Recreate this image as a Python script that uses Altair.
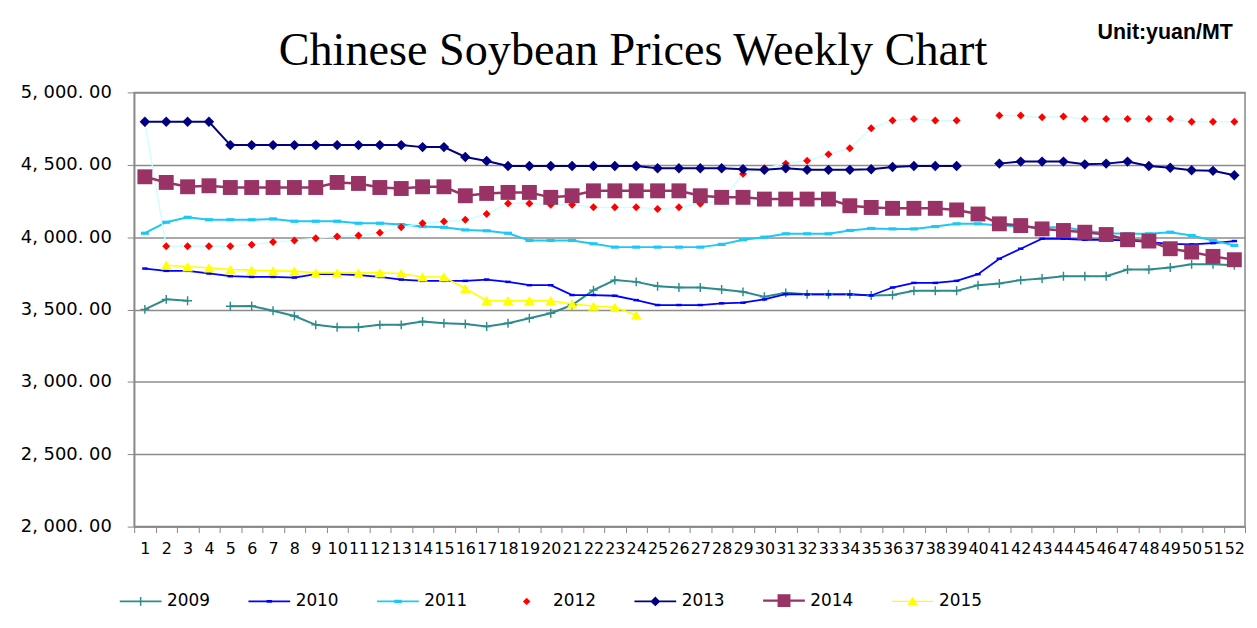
import altair as alt
import pandas as pd

weeks = list(range(1, 53))
years = ["2009", "2010", "2011", "2012", "2013", "2014", "2015"]

y2009 = [3501, 3570, 3561, None, 3522, 3524, 3492, 3455, 3394, 3378, 3378, 3394, 3394, 3417, 3405, 3400,
         3382, 3405, 3440, 3474, 3531, 3634, 3703, 3691, 3661, 3652, 3652, 3638, 3622, 3588, 3615, 3606,
         3606, 3606, 3597, 3600, 3629, 3629, 3629, 3668, 3680, 3703, 3714, 3730, 3730, 3730, 3776, 3776,
         3790, 3812, 3812, 3806]
y2010 = [3783, 3767, 3767, 3749, 3730, 3725, 3725, 3721, 3744, 3744, 3737, 3725, 3707, 3698, 3698, 3698,
         3707, 3691, 3668, 3668, 3600, 3600, 3595, 3565, 3531, 3531, 3531, 3543, 3547, 3570, 3606, 3604,
         3604, 3604, 3597, 3652, 3684, 3684, 3698, 3744, 3851, 3920, 3989, 3989, 3982, 3982, 3977, 3966,
         3954, 3950, 3959, 3973]
y2011 = [4027, 4103, 4137, 4120, 4120, 4120, 4126, 4110, 4110, 4110, 4096, 4096, 4087, 4073, 4068, 4050,
         4044, 4027, 3977, 3977, 3977, 3954, 3931, 3931, 3931, 3931, 3931, 3950, 3982, 4000, 4023, 4023,
         4023, 4046, 4060, 4057, 4057, 4073, 4092, 4092, 4080, 4073, 4068, 4068, 4046, 4027, 4023, 4023,
         4034, 4011, 3977, 3943]
y2012 = [4790, 3937, 3937, 3937, 3937, 3948, 3966, 3977, 3993, 4004, 4011, 4030, 4068, 4096, 4108, 4120,
         4160, 4233, 4233, 4224, 4224, 4206, 4206, 4206, 4195, 4206, 4230, 4250, 4437, 4476, 4508, 4528,
         4572, 4614, 4752, 4806, 4817, 4806, 4806, None, 4840, 4840, 4828, 4833, 4817, 4817, 4817, 4817,
         4817, 4797, 4797, 4797]
y2013 = [4797, 4797, 4797, 4797, 4636, 4636, 4636, 4636, 4636, 4636, 4636, 4636, 4636, 4622, 4622, 4554,
         4526, 4492, 4492, 4492, 4492, 4492, 4492, 4492, 4476, 4476, 4476, 4476, 4469, 4465, 4476, 4465,
         4465, 4465, 4469, 4485, 4492, 4492, 4492, None, 4508, 4522, 4522, 4522, 4503, 4508, 4522, 4492,
         4480, 4462, 4458, 4428]
y2014 = [4417, 4378, 4348, 4355, 4343, 4343, 4343, 4343, 4343, 4378, 4371, 4343, 4336, 4348, 4348, 4286,
         4302, 4309, 4309, 4275, 4286, 4320, 4320, 4320, 4320, 4320, 4286, 4275, 4275, 4263, 4263, 4263,
         4263, 4217, 4205, 4199, 4199, 4199, 4188, 4160, 4092, 4080, 4057, 4046, 4034, 4018, 3982, 3973,
         3920, 3897, 3867, 3844]
y2015 = [None, 3806, 3795, 3788, 3776, 3772, 3767, 3765, 3753, 3753, 3753, 3753, 3749, 3725, 3725, 3645,
         3561, 3561, 3561, 3561, 3538, 3524, 3515, 3462]

y_ticks = [2000, 2500, 3000, 3500, 4000, 4500, 5000]

line_colors = ["#2E8B8B", "#0000FF", "#1EC8F5", "#CCFFFF", "#000080", "#993366", "#FFFF00"]
line_widths = [2, 1.8, 2, 1.3, 2, 2.5, 1.6]
marker_colors = ["#2E8B8B", "#0000FF", "#1EC8F5", "#FF0000", "#000080", "#993366", "#FFFF00"]
marker_shapes = [
    "M-1,-0.16H1V0.16H-1Z M-0.16,-1H0.16V1H-0.16Z",
    "M-1,-0.45H1V0.45H-1Z",
    "M-1,-0.4H1V0.4H-1Z",
    "diamond",
    "diamond",
    "square",
    "triangle-up",
]
marker_sizes = [81, 30, 64, 64, 110, 225, 115]
legend_shapes = [
    "M-4.2,-0.2H4.2V0.2H-4.2Z M-0.15,-0.9H0.15V0.9H-0.15Z",
    "M-4.2,-0.18H4.2V0.18H-4.2Z M-0.55,-0.3H0.55V0.3H-0.55Z",
    "M-4.2,-0.2H4.2V0.2H-4.2Z M-0.75,-0.32H0.75V0.32H-0.75Z",
    "M-4.2,0H4.2 M0,-0.75L0.75,0L0,0.75L-0.75,0Z",
    "M-4.2,-0.2H4.2V0.2H-4.2Z M0,-1L1,0L0,1L-1,0Z",
    "M-4.2,-0.25H4.2V0.25H-4.2Z M-1.3,-1.3H1.3V1.3H-1.3Z",
    "M-4.2,-0.15H4.2V0.15H-4.2Z M0,-1L1.1,0.8L-1.1,0.8Z",
]

series = [y2009, y2010, y2011, y2012, y2013, y2014, y2015]
rows = []
for yr, vals in zip(years, series):
    for w, v in zip(weeks, vals):
        rows.append({"week": w, "year": yr, "price": v})
df = pd.DataFrame(rows)
legend_df = pd.DataFrame({"series": years})

FONT = "DejaVu Sans"

x_enc = alt.X(
    "week:O",
    scale=alt.Scale(type="band", paddingInner=0, paddingOuter=0),
    axis=alt.Axis(title=None, labelAngle=0, labelFont=FONT, labelFontSize=16, labelColor="black",
                  labelPadding=8, tickSize=6, tickColor="#888888", domainColor="#888888",
                  domainWidth=1.5, tickBand="extent", grid=False, labelOverlap=False),
)
y_enc = alt.Y(
    "price:Q",
    scale=alt.Scale(domain=[2000, 5000], nice=False, zero=False),
    axis=alt.Axis(values=y_ticks, grid=True, gridColor="#8c8c8c", gridWidth=1.5,
                  labelExpr="replace(replace(format(datum.value, ',.2f'), ',', ', '), '.', '. ')",
                  labelFont=FONT, labelFontSize=18, labelColor="black", labelPadding=16,
                  tickSize=7, tickColor="#888888", domainColor="#888888", domainWidth=1.5,
                  title="Unit:yuan/MT", titleAngle=0, titleX=969, titleY=-60, titleAlign="left",
                  titleBaseline="middle", titleFont="Liberation Sans", titleFontSize=21.5,
                  titleFontWeight="bold", titleColor="black"),
)

lines = alt.Chart(df).mark_line().encode(
    x=x_enc,
    y=y_enc,
    color=alt.Color("year:N", scale=alt.Scale(domain=years, range=line_colors), legend=None),
    strokeWidth=alt.StrokeWidth("year:N", scale=alt.Scale(type="ordinal", domain=years, range=line_widths),
                                legend=None),
)

points = alt.Chart(df).mark_point(filled=True, opacity=1).encode(
    x=x_enc,
    y=y_enc,
    fill=alt.Fill("year:N", scale=alt.Scale(domain=years, range=marker_colors), legend=None),
    shape=alt.Shape("year:N", scale=alt.Scale(domain=years, range=marker_shapes), legend=None),
    size=alt.Size("year:N", scale=alt.Scale(type="ordinal", domain=years, range=marker_sizes), legend=None),
    order=alt.Order("year:N"),
)

leg = dict(title=None, orient="none", legendX=-2, legendY=503, direction="horizontal", columns=7,
           columnPadding=34.5, labelOffset=18, symbolSize=100,
           labelFont=FONT, labelFontSize=17, labelColor="black", symbolOpacity=1, padding=0)

legend_layer = alt.Chart(legend_df).mark_point(filled=True, opacity=0).encode(
    shape=alt.Shape("series:N", scale=alt.Scale(domain=years, range=legend_shapes), legend=alt.Legend(**leg)),
    fill=alt.Fill("series:N", scale=alt.Scale(domain=years, range=marker_colors), legend=alt.Legend(**leg)),
)

chart = alt.layer(lines, points, legend_layer).resolve_scale(
    shape="independent", fill="independent"
).properties(
    width=1118,
    height=437,
    autosize=alt.AutoSizeParams(type="none"),
    padding={"left": 127, "top": 83, "right": 4, "bottom": 86},
    background="white",
    title=alt.TitleParams(
        text="Chinese Soybean Prices Weekly Chart", font="Liberation Serif", fontSize=46.5,
        fontWeight="normal", color="black", anchor="middle", frame="group", dx=-57,
        offset=23, dy=113, baseline="alphabetic",
    ),
).configure_view(stroke="#888888", strokeWidth=1.5)

chart.save("out.html", embed_options={"renderer": "svg", "actions": False})
